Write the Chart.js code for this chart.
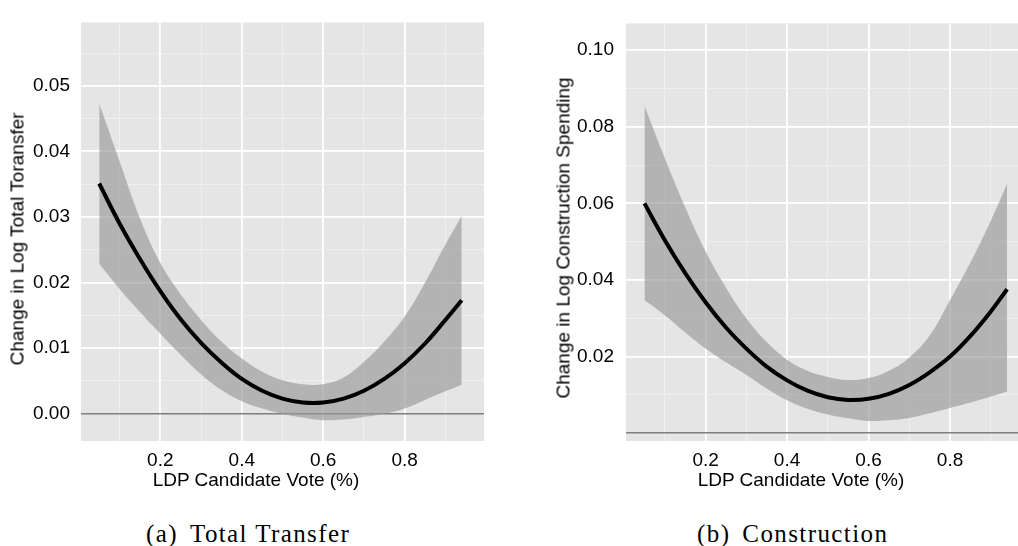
<!DOCTYPE html>
<html>
<head>
<meta charset="utf-8">
<script src="https://cdn.jsdelivr.net/npm/chart.js@4.4.0/dist/chart.umd.min.js"></script>
<style>
  body{margin:0;background:#fff;width:1018px;height:546px;position:relative;overflow:hidden;font-family:"Liberation Sans",Arial,sans-serif;color:#000}
  .box{position:absolute;top:0;height:500px}
  .xt{position:absolute;top:470px;font-size:19px;line-height:19px;white-space:nowrap;transform:translateX(-50%)}
  .yt{position:absolute;font-size:19px;line-height:19px;white-space:nowrap;transform:translate(-50%,-50%) rotate(-90deg)}
  .cap{position:absolute;top:521px;font-family:"Liberation Serif",serif;font-size:25px;line-height:25px;letter-spacing:1.4px;white-space:nowrap}
  .cap span{display:inline-block;width:12px}
</style>
</head>
<body>
<div class="box" style="left:0;width:490px"><canvas id="c1" width="490" height="500"></canvas></div>
<div class="box" style="left:545px;width:473px"><canvas id="c2" width="473" height="500"></canvas></div>

<div class="yt" style="left:17px;top:239px">Change in Log Total Toransfer</div>
<div class="yt" style="left:563px;top:238px">Change in Log Construction Spending</div>
<div class="xt" style="left:256px">LDP Candidate Vote (%)</div>
<div class="xt" style="left:801px">LDP Candidate Vote (%)</div>
<div class="cap" style="left:146px">(a)<span></span>Total Transfer</div>
<div class="cap" style="left:697px">(b)<span></span>Construction</div>

<script>
// --- Data
const voteShare = [0.05,0.10,0.15,0.20,0.25,0.30,0.35,0.40,0.45,0.50,0.55,0.60,0.65,0.70,0.75,0.80,0.85,0.90,0.94];

const fitTransfer   = [0.0351,0.0290,0.0236,0.0187,0.0144,0.0108,0.0078,0.0053,0.0035,0.0023,0.0017,0.0017,0.0023,0.0035,0.0053,0.0077,0.0107,0.0143,0.0173];
const upperTransfer = [0.0473,0.0385,0.0298,0.0230,0.0182,0.0143,0.0110,0.0084,0.0064,0.0051,0.0045,0.0045,0.0055,0.0079,0.0110,0.0148,0.0200,0.0258,0.0302];
const lowerTransfer = [0.0229,0.0190,0.0155,0.0122,0.0090,0.0060,0.0036,0.0019,0.0008,0.0000,-0.0006,-0.0010,-0.0009,-0.0005,0.0000,0.0008,0.0021,0.0034,0.0044];

const fitConstruction   = [0.0600,0.0504,0.0418,0.0342,0.0276,0.0221,0.0174,0.0138,0.0111,0.0094,0.0087,0.0090,0.0103,0.0126,0.0159,0.0200,0.0254,0.0318,0.0376];
const upperConstruction = [0.0855,0.0718,0.0590,0.0475,0.0380,0.0300,0.0238,0.0192,0.0163,0.0147,0.0139,0.0144,0.0163,0.0198,0.0255,0.0348,0.0446,0.0555,0.0651];
const lowerConstruction = [0.0348,0.0308,0.0263,0.0221,0.0185,0.0152,0.0117,0.0086,0.0064,0.0049,0.0039,0.0032,0.0034,0.0040,0.0052,0.0066,0.0080,0.0096,0.0109];

// --- Ticks
const xMajor = [0.2,0.4,0.6,0.8];
const xMinor = [0.1,0.3,0.5,0.7,0.9];
const yMajorTransfer = [0.00,0.01,0.02,0.03,0.04,0.05];
const yMinorTransfer = [0.005,0.015,0.025,0.035,0.045,0.055];
const yMajorConstruction = [0.02,0.04,0.06,0.08,0.10];
const yMinorConstruction = [0.01,0.03,0.05,0.07,0.09];
const zeroLine = 0;

const has = (arr, v) => arr.some(a => Math.abs(a - v) < 1e-9);
const pts = ys => voteShare.map((x, i) => ({x, y: ys[i]}));

const panelBg = {
  id: 'panelBg',
  beforeDraw(chart){
    const {ctx, chartArea:a} = chart;
    ctx.save(); ctx.fillStyle = '#e5e5e5';
    ctx.fillRect(a.left, a.top, a.right - a.left, a.bottom - a.top);
    ctx.restore();
  }
};

function makeChart(id, fit, lo, hi, o){
  const yTicks = [...o.yMinor, ...o.yMajor, zeroLine].filter((v,i,s)=>s.indexOf(v)===i).sort((a,b)=>a-b);
  const xTicks = [...xMinor, ...xMajor].sort((a,b)=>a-b);
  const font = {family:'"Liberation Sans", Arial, sans-serif', size:19};
  return new Chart(document.getElementById(id), {
    type:'line',
    data:{ datasets:[
      { data:pts(fit), borderColor:'#000', borderWidth:4, pointRadius:0, tension:0.4, fill:false },
      { data:pts(hi), borderWidth:0, borderColor:'rgba(0,0,0,0)', pointRadius:0, tension:0.4, fill:'+1', backgroundColor:'rgba(153,153,153,0.66)' },
      { data:pts(lo), borderWidth:0, borderColor:'rgba(0,0,0,0)', pointRadius:0, tension:0.4, fill:false }
    ]},
    options:{
      responsive:false, animation:false, devicePixelRatio:1,
      layout:{ padding:{top:12, right:o.padRight, bottom:0, left:0} },
      plugins:{ legend:{display:false}, tooltip:{enabled:false} },
      scales:{
        x:{
          type:'linear', min:o.xMin, max:o.xMax,
          afterBuildTicks: s => { s.ticks = xTicks.map(v=>({value:v})); },
          afterFit: s => { s.height = 59; },
          border:{display:false},
          grid:{ drawTicks:false,
            color: c => has(xMajor, c.tick.value) ? '#ffffff' : '#efefef',
            lineWidth: c => has(xMajor, c.tick.value) ? 1.8 : 0.9 },
          ticks:{ autoSkip:false, maxRotation:0, padding:8, color:'#000', font,
            callback: v => has(xMajor, v) ? v.toFixed(1) : '' }
        },
        y:{
          type:'linear', min:o.yMin, max:o.yMax,
          afterBuildTicks: s => { s.ticks = yTicks.map(v=>({value:v})); },
          afterFit: s => { s.width = 81; },
          border:{display:false},
          grid:{ drawTicks:false,
            color: c => c.tick.value === zeroLine ? '#7f7f7f' : (has(o.yMajor, c.tick.value) ? '#ffffff' : '#efefef'),
            lineWidth: c => c.tick.value === zeroLine ? 1.5 : (has(o.yMajor, c.tick.value) ? 1.8 : 0.9) },
          ticks:{ autoSkip:false, padding:o.tickPad, color:'#000', font,
            callback: v => has(o.yMajor, v) ? v.toFixed(2) : '' }
        }
      }
    },
    plugins:[panelBg]
  });
}

makeChart('c1', fitTransfer, lowerTransfer, upperTransfer, {
  xMin:0.0053, xMax:0.9947, yMin:-0.00417, yMax:0.05967,
  yMajor:yMajorTransfer, yMinor:yMinorTransfer, padRight:6, tickPad:11
});
makeChart('c2', fitConstruction, lowerConstruction, upperConstruction, {
  xMin:0.0047, xMax:0.9667, yMin:-0.00203, yMax:0.10699,
  yMajor:yMajorConstruction, yMinor:yMinorConstruction, padRight:0, tickPad:12
});
</script>
</body>
</html>
